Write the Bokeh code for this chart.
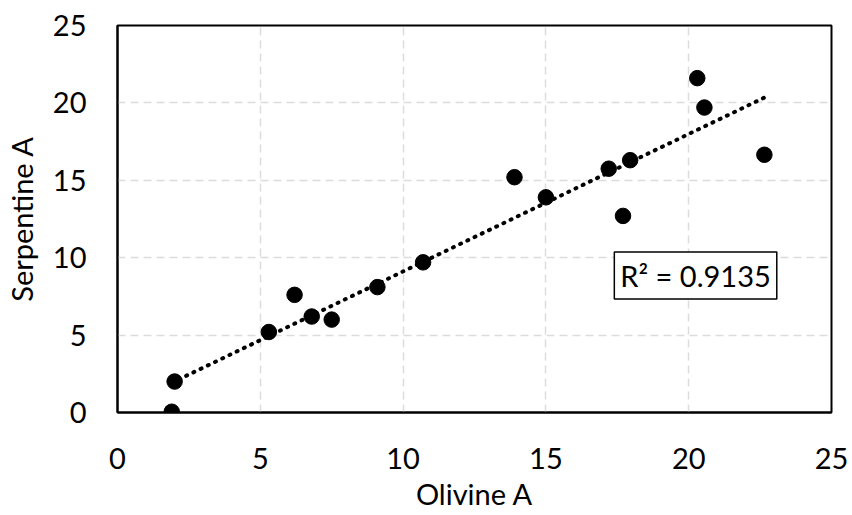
import numpy as np
from bokeh.plotting import figure
from bokeh.models import Label, Range1d, FixedTicker
from bokeh.embed import file_html
from bokeh.resources import INLINE

# data
olivine = [1.9, 2.0, 5.3, 6.2, 6.8, 7.5, 9.1, 10.7, 13.9, 15.0, 17.2, 17.7, 17.95, 20.3, 20.55, 22.65]
serpentine = [0.05, 2.0, 5.2, 7.6, 6.2, 6.0, 8.1, 9.7, 15.2, 13.9, 15.75, 12.7, 16.3, 21.6, 19.7, 16.65]
ticks = [0, 5, 10, 15, 20, 25]
r2_text = "R\u00b2 = 0.9135"

FONT = "Lato"
FS = "29px"

p = figure(width=852, height=515, output_backend="svg", toolbar_location=None,
           x_range=Range1d(0, 25), y_range=Range1d(0, 25),
           min_border_left=116, min_border_right=21, min_border_top=25, min_border_bottom=103)

p.outline_line_color = "black"
p.outline_line_width = 2
p.background_fill_color = "white"
p.border_fill_color = "white"

for ax in (p.xaxis[0], p.yaxis[0]):
    ax.ticker = FixedTicker(ticks=ticks)
    ax.major_tick_out = 0
    ax.major_tick_in = 0
    ax.minor_tick_out = 0
    ax.minor_tick_in = 0
    ax.axis_line_color = "black"
    ax.axis_line_width = 2
    ax.major_label_text_font = FONT
    ax.major_label_text_font_size = FS
    ax.major_label_text_color = "black"
    ax.axis_label_text_font = FONT
    ax.axis_label_text_font_size = FS
    ax.axis_label_text_font_style = "normal"
    ax.axis_label_text_color = "black"

p.xaxis.axis_label = "Olivine A"
p.yaxis.axis_label = "Serpentine A"
p.xaxis.major_label_standoff = 35
p.yaxis.major_label_standoff = 31
p.xaxis.axis_label_standoff = 4
p.yaxis.axis_label_standoff = 11

for g in (p.xgrid[0], p.ygrid[0]):
    g.grid_line_color = "#dcdcdc"
    g.grid_line_width = 1.5
    g.grid_line_dash = "8 5"

# linear trendline from the data
xs = np.array(olivine)
ys = np.array(serpentine)
m, b = np.polyfit(xs, ys, 1)
tx = [xs.min(), xs.max()]
ty = [m * tx[0] + b, m * tx[1] + b]
p.line(tx, ty, line_color="black", line_width=4, line_dash="1 7", line_cap="round")

p.scatter(olivine, serpentine, size=15.5, fill_color="black", line_color="black")

lab = Label(x=20.24, y=8.85, text=r2_text, text_font=FONT, text_font_size=FS,
            text_color="black", text_align="center", text_baseline="middle",
            border_line_color="black", border_line_width=1.5,
            background_fill_color="white", padding=6)
p.add_layout(lab)

open("out.html", "w").write(file_html(p, INLINE))
